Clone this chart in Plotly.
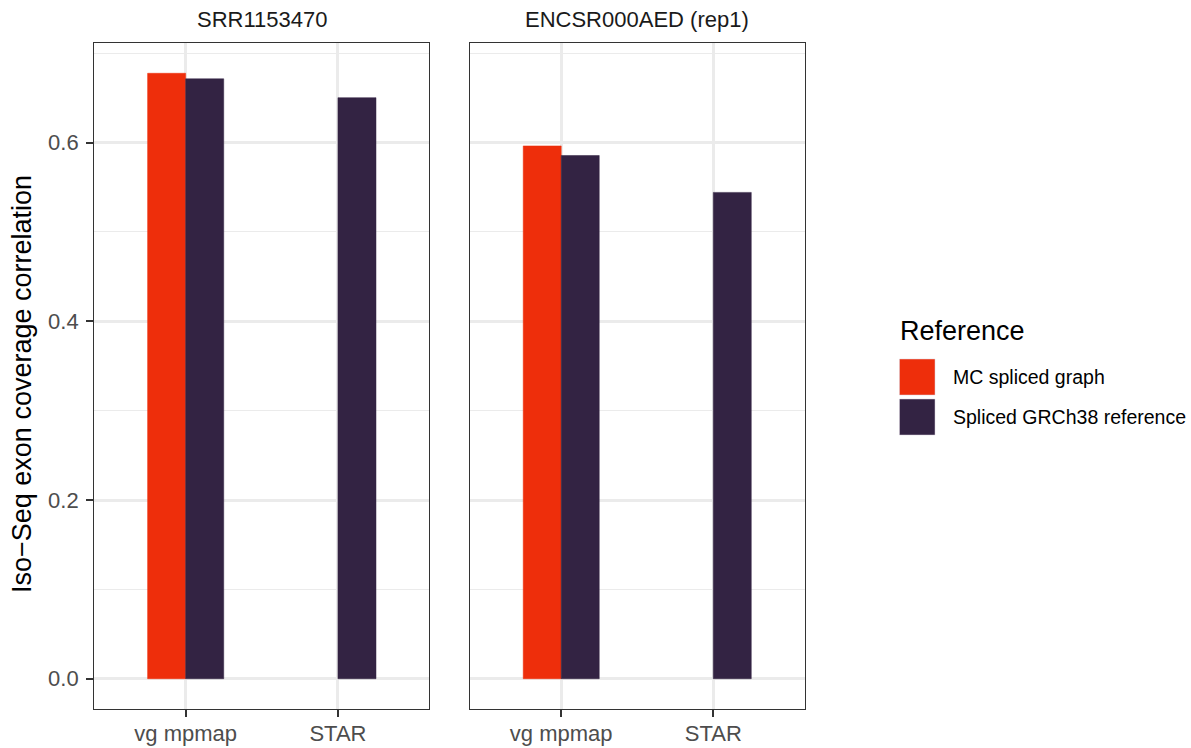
import plotly.graph_objects as go

# Data
datasets = ["SRR1153470", "ENCSR000AED (rep1)"]
methods = ["vg mpmap", "STAR"]
references = ["MC spliced graph", "Spliced GRCh38 reference"]
colors = ["#EE2E0B", "#332343"]
# correlation values per dataset, one entry per method
mc_graph = {
    "SRR1153470": [0.6775, None],
    "ENCSR000AED (rep1)": [0.5962, None],
}
grch38 = {
    "SRR1153470": [0.6713, 0.6502],
    "ENCSR000AED (rep1)": [0.5855, 0.5442],
}
y_ticks = [0.0, 0.2, 0.4, 0.6]
y_tick_text = ["0.0", "0.2", "0.4", "0.6"]

W, H = 1191, 748
FONT = "Liberation Sans"

fig = go.Figure()

panels_px = [(94.3, 429.3), (470.0, 804.5)]
y_top_px, y_bot_px = 43.0, 709.0
ydom = [(H - y_bot_px) / H, (H - y_top_px) / H]

series = [mc_graph, grch38]
for i, ds in enumerate(datasets):
    xa = "x" if i == 0 else "x2"
    ya = "y" if i == 0 else "y2"
    for s, (ref, col) in enumerate(zip(references, colors)):
        fig.add_trace(go.Bar(
            x=methods, y=series[s][ds], name=ref,
            marker=dict(color=col, line=dict(color=col, width=0.5)),
            xaxis=xa, yaxis=ya, showlegend=False, offsetgroup=str(s),
        ))

ymax = 0.6775
pad = ymax * 0.05
yrange = [-pad, ymax + pad]

axis_common = dict(
    showline=True, linecolor="#333333", linewidth=1.4, mirror=True,
    ticks="outside", ticklen=7, tickwidth=2, tickcolor="#333333",
    tickfont=dict(family=FONT, size=22, color="#4D4D4D"),
    zeroline=False,
)

layout = dict(
    width=W, height=H, margin=dict(l=0, r=0, t=0, b=0),
    paper_bgcolor="white", plot_bgcolor="white",
    barmode="group", bargap=0.5, bargroupgap=0,
    showlegend=False,
    font=dict(family=FONT),
)
for i in range(2):
    sfx = "" if i == 0 else str(i + 1)
    x0, x1 = panels_px[i]
    layout["xaxis" + sfx] = dict(
        axis_common, domain=[x0 / W, x1 / W], anchor="y" + sfx,
        type="category", range=[-0.6, 1.6],
        ticklabelstandoff=-3,
        showgrid=True, gridcolor="#EBEBEB", gridwidth=2.6,
    )
    layout["yaxis" + sfx] = dict(
        axis_common, domain=ydom, anchor="x" + sfx, range=yrange,
        tickvals=y_ticks, ticktext=y_tick_text,
        showticklabels=(i == 0), ticks="outside" if i == 0 else "",
        ticklabelstandoff=3,
        showgrid=True, gridcolor="#EBEBEB", gridwidth=2.6,
        minor=dict(tickvals=[0.1, 0.3, 0.5, 0.7], showgrid=True,
                   gridcolor="#EBEBEB", gridwidth=1.4, ticks=""),
    )
fig.update_layout(**layout)

# facet titles
for i, ds in enumerate(datasets):
    x0, x1 = panels_px[i]
    fig.add_annotation(x=(x0 + x1) / 2 / W, y=(H - 20) / H, xref="paper", yref="paper",
                       text=ds, showarrow=False, xanchor="center", yanchor="middle",
                       font=dict(family=FONT, size=22, color="#1A1A1A"))

# y-axis title
fig.add_annotation(x=22 / W, y=(H - (y_top_px + y_bot_px) / 2 - 8) / H, xref="paper", yref="paper",
                   text="Iso\u2212Seq exon coverage correlation", textangle=-90, showarrow=False,
                   xanchor="center", yanchor="middle",
                   font=dict(family=FONT, size=27, color="black"))

# legend
fig.add_annotation(x=898 / W, y=(H - 331) / H, xref="paper", yref="paper",
                   text="Reference", showarrow=False, xanchor="left", yanchor="middle",
                   font=dict(family=FONT, size=27, color="black"))
key_tops = [359, 399]
for ref, col, top in zip(references, colors, key_tops):
    fig.add_shape(type="rect", xref="paper", yref="paper",
                  x0=899.5 / W, x1=935 / W, y0=(H - top - 36) / H, y1=(H - top) / H,
                  fillcolor=col, line=dict(color="#D8D0DC", width=0.5))
    fig.add_annotation(x=951 / W, y=(H - top - 18) / H, xref="paper", yref="paper",
                       text=ref, showarrow=False, xanchor="left", yanchor="middle",
                       font=dict(family=FONT, size=19.5, color="black"))

fig.write_html("out.html")
